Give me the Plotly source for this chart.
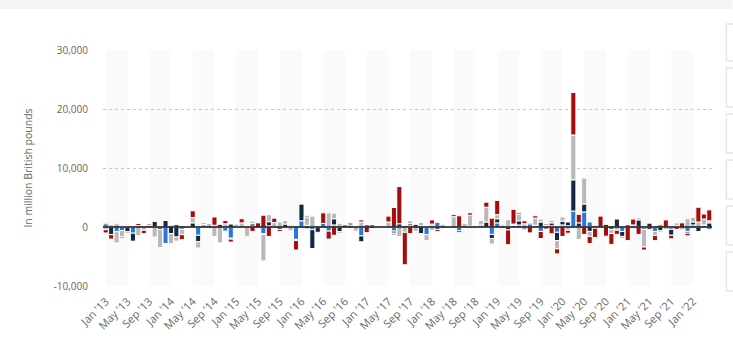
import plotly.graph_objects as go

# ---------------- data (million GBP) ----------------
month_names = ["Jan", "Feb", "Mar", "Apr", "May", "Jun", "Jul", "Aug", "Sep", "Oct", "Nov", "Dec"]
months = [f"{m} '{y:02d}" for y in range(13, 23) for m in month_names][:112]  # Jan '13 .. Apr '22

tick_labels = ["Jan '13", "May '13", "Sep '13", "Jan '14", "May '14", "Sep '14", "Jan '15", "May '15",
               "Sep '15", "Jan '16", "May '16", "Sep '16", "Jan '17", "May '17", "Sep '17", "Jan '18",
               "May '18", "Sep '18", "Jan '19", "May '19", "Sep '19", "Jan '20", "May '20", "Sep '20",
               "Jan '21", "May '21", "Sep '21", "Jan '22"]

series_blue = [560, 0, -800, -600, 0, -1050, 250, 0, 0, 0, 0, -2800, 350, 0, -400, 0, 0, -1400, 400, 0,
               100, 0, -700, -1900, 0, 0, 0, 150, 0, -1100, 200, 0, 0, -200, 200, -2100, 1050, 300, -450, 0,
               600, -700, 350, 0, 0, 350, 0, -1500, 500, 500, 0, 0, 0, -700, 0, 0, 200, 0, 200, -1300,
               300, 850, 0, 0, 0, -650, 0, -200, 0, 150, 0, -1250, 700, 150, 0, 0, 350, -400, 550, 150,
               -750, 0, 200, -900, 350, 200, 2700, 0, 2550, 850, 350, 0, 0, 0, 0, -750, 500, 0, 0, -400,
               0, -750, 0, 0, -400, 0, 0, -750, 350, 0, 350, -400]

series_navy = [170, -1300, 350, 0, -800, -1350, 0, 0, 250, 1000, -400, 1100, -1100, -1700, 150, 0, 700, -1100, 0, -250,
               200, 500, 0, 500, 0, 0, 0, 400, -200, -150, 700, 0, -400, 500, 0, 150, 2900, -300, -3200, -900,
               0, 0, 1050, -800, 0, 350, 0, -1000, 0, -250, -250, 0, 0, -350, 550, 200, 350, 500, -1100, 0,
               200, -400, -200, 0, 0, -300, 0, 150, 0, 200, 850, -700, 700, -250, -500, 250, 700, -200, 200, 150,
               850, -350, 500, -1400, 650, 650, 5300, 700, 1350, -750, 0, 0, 500, -400, 1350, -850, 0, -200, 1200, 0,
               700, 0, -650, 0, -1000, 200, 0, -300, 500, -750, 0, 700]

series_gray = [-450, 400, -1900, -1100, 0, 200, -1450, -550, 0, -1700, -3100, 200, -1750, -700, -900, -200, 900, -1050, 400, 650,
               -1600, -2700, 550, -150, 550, 700, -1600, 450, 0, -4500, 1200, 750, 850, 600, -650, -200, 0, 1400, 1900, 0,
               0, 2400, 950, 650, 0, 170, -700, 850, 0, 0, 0, 0, 850, -400, -1600, -900, 500, -750, 650, -1000,
               -600, 0, 500, -150, 1750, 0, 700, 1850, 0, 750, 2500, -950, 700, 300, 1250, 250, 1100, 550, 200, 1200,
               500, 250, 450, -1400, 700, -550, 7600, -2100, 4400, -850, -200, 0, 0, -700, -550, -350, 0, 350, 350, -3000,
               0, -700, -300, -400, 0, 500, -500, 1400, 850, 850, 1000, 350]

series_red = [-560, -750, 200, -200, -200, 0, 350, -550, 250, 0, 0, 0, 0, 400, -850, 0, 1150, 0, 0, 0,
              1400, 0, 550, -500, 0, 700, -150, -750, 700, 2000, -1600, 750, -350, 0, 150, -1600, 0, 200, 0, 150,
              1800, -1350, -1400, -200, 350, 0, 0, 350, -950, 0, 0, 150, 1000, 3300, 6300, -5500, -1100, 0, 0, 0,
              700, -350, 0, 0, 350, 1900, 0, 400, 150, 0, 850, 1500, 2400, -200, -2500, 2500, 250, 500, -1000, 400,
              -1200, 250, -1150, -850, -1600, -500, 7200, 1450, -1250, -1200, -1600, 1850, -1550, -1850, -700, 0, -2300, 1000, -1250, -500,
              -400, -850, 350, 1200, -600, -400, 700, -450, 0, 2500, 850, 1850]

series = [
    ("Series 1", series_blue, "#2b76db"),
    ("Series 2", series_navy, "#14283f"),
    ("Series 3", series_gray, "#b9b9b9"),
    ("Series 4", series_red, "#a50c0c"),
]

# ---------------- figure ----------------
fig = go.Figure()
for name, vals, color in series:
    fig.add_trace(go.Bar(x=months, y=vals, name=name,
                         marker=dict(color=color, line=dict(color="white", width=1))))

# alternating light bands every 4 months
shapes = []
for k in range(14):
    shapes.append(dict(type="rect", xref="x", yref="paper", x0=8 * k, x1=8 * k + 4, y0=0, y1=1,
                       fillcolor="#fafafa", line=dict(width=0), layer="below"))
# zero line
shapes.append(dict(type="line", xref="paper", yref="y", x0=0, x1=1, y0=0, y1=0,
                   line=dict(color="#111111", width=1.6), layer="above"))

# page decoration: top strip and right-hand cards
L, W, T, H = 103.3, 609.3, 50, 236
def px(x):
    return (x - L) / W
def py(y):
    return (T + H - y) / H
shapes.append(dict(type="rect", xref="paper", yref="paper", x0=px(0), x1=px(733), y0=py(9), y1=py(0),
                   fillcolor="#f4f5f7", line=dict(width=0), layer="below"))
for top, bot in [(24, 61), (68, 107), (114, 153), (160, 199), (206, 245), (252, 291)]:
    shapes.append(dict(type="rect", xref="paper", yref="paper", x0=px(727), x1=px(745), y0=py(bot), y1=py(top),
                       fillcolor="white", line=dict(color="#e4e6ea", width=1.5), layer="below"))

fig.update_layout(
    barmode="relative",
    bargap=0.06,
    width=733, height=360,
    margin=dict(l=103, r=21, t=50, b=74),
    paper_bgcolor="white",
    plot_bgcolor="white",
    showlegend=False,
    hovermode=False,
    shapes=shapes,
    xaxis=dict(
        type="category",
        range=[-0.5, 111.5],
        tickmode="array",
        tickvals=tick_labels,
        ticktext=tick_labels,
        tickangle=-45,
        tickfont=dict(family="Open Sans, sans-serif", size=11, color="#666666"),
        showgrid=False, zeroline=False, showline=False, ticks="",
        ticklabelstandoff=6,
        automargin=False,
    ),
    yaxis=dict(
        range=[-10000, 30000],
        tickmode="array",
        tickvals=[-10000, 0, 10000, 20000, 30000],
        ticktext=["-10,000", "0", "10,000", "20,000", "30,000"],
        tickfont=dict(family="Open Sans, sans-serif", size=10, color="#666666"),
        showgrid=True, gridcolor="#c8c8c8", griddash="dot", gridwidth=1,
        zeroline=False, showline=False, ticks="",
        ticklabelstandoff=14,
        title=dict(text="In million British pounds",
                   font=dict(family="Open Sans, sans-serif", size=10.5, color="#5b6b5e"),
                   standoff=18),
        automargin=False,
    ),
)

fig.write_html("out.html", config={"displayModeBar": False, "staticPlot": True},
               post_script="document.body.style.margin='0';")
